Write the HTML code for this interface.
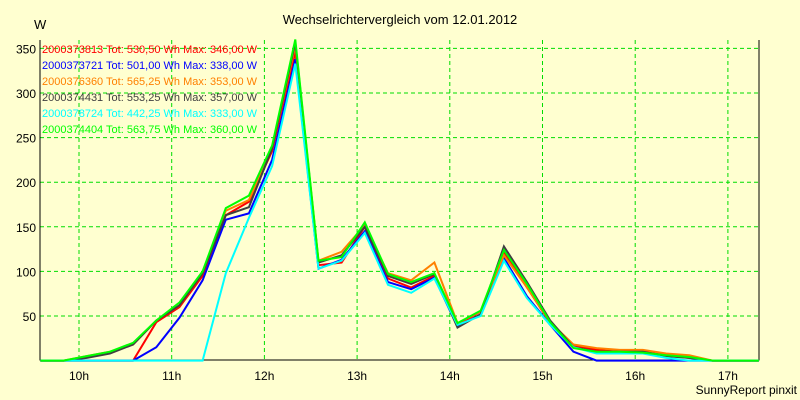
<!DOCTYPE html>
<html><head><meta charset="utf-8"><style>
body{margin:0;background:#ffffd0;}
svg{display:block;font-family:"Liberation Sans",sans-serif;}
</style></head><body>
<svg id="chart" width="800" height="400">
<rect x="0" y="0" width="800" height="400" fill="#ffffd0"/>
<text x="400" y="24" font-size="13" text-anchor="middle" fill="#000">Wechselrichtervergleich vom 12.01.2012</text>
<text x="34" y="29" font-size="13" fill="#000">W</text>
<text x="797" y="394" font-size="12" text-anchor="end" fill="#000">SunnyReport pinxit</text>
<g id="grid"></g><g id="axes"></g><g id="series"></g><g id="legend"></g>
</svg>
<script>
const yTicks=[50,100,150,200,250,300,350];
const xTickHours=[10,11,12,13,14,15,16,17];
const xTickLabels=["10h","11h","12h","13h","14h","15h","16h","17h"];
const startMinute=9*60+35, stepMinutes=15;
const seriesNames=["2000373813 Tot: 530,50 Wh Max: 346,00 W","2000373721 Tot: 501,00 Wh Max: 338,00 W","2000376360 Tot: 565,25 Wh Max: 353,00 W","2000374431 Tot: 553,25 Wh Max: 357,00 W","2000378724 Tot: 442,25 Wh Max: 333,00 W","2000374404 Tot: 563,75 Wh Max: 360,00 W"];
const seriesColors=["#ff0000","#0000ff","#ff8000","#404040","#00ffff","#00ff00"];
const redVals=[0,0,0,0,0,43,60,95,163,178,235,346,107,110,150,92,82,95,40,55,122,82,42,17,12,10,10,6,3,0,0,0];
const blueVals=[0,0,0,0,0,15,48,90,158,165,225,338,103,113,145,88,80,93,38,52,115,72,40,10,0,0,0,0,0,0,0,0];
const orangeVals=[0,0,5,10,18,45,62,98,168,180,238,353,112,122,152,98,90,110,42,55,118,82,43,18,14,12,12,8,6,0,0,0];
const darkVals=[0,0,3,8,18,45,62,98,163,172,238,357,110,118,150,95,86,97,37,52,128,88,45,15,10,10,10,5,3,0,0,0];
const cyanVals=[0,0,0,0,0,0,0,0,98,160,218,333,103,112,143,85,76,92,40,50,112,70,40,15,8,8,8,3,0,0,0,0];
const greenVals=[0,0,5,10,20,45,65,100,171,185,241,360,112,116,155,97,88,98,42,56,124,86,43,14,10,10,9,6,4,0,0,0];
const allSeries=[redVals,blueVals,orangeVals,darkVals,cyanVals,greenVals];

const NS="http://www.w3.org/2000/svg";
const L=40,R=759,T=40,B=360;
function xScale(min){return 79+(min-600)*92.7/60;}
function yScale(v){return 360.6-v*0.892;}
function mk(tag,attrs,parent){const e=document.createElementNS(NS,tag);for(const k in attrs)e.setAttribute(k,attrs[k]);parent.appendChild(e);return e;}
const grid=document.getElementById('grid'),axes=document.getElementById('axes'),ser=document.getElementById('series'),leg=document.getElementById('legend');
yTicks.forEach(v=>{
  const y=yScale(v);
  const g=mk('line',{x1:L,x2:R,y1:y,y2:y,stroke:'#00dd00','stroke-dasharray':'4,3'},grid);
  
  
  const t=mk('text',{x:36,y:y+5,'font-size':12,'text-anchor':'end',fill:'#000'},axes);
  t.textContent=v;
  
  
});
xTickHours.forEach((h,i)=>{
  const x=xScale(h*60);
  const g=mk('line',{x1:x,x2:x,y1:T,y2:B,stroke:'#00dd00','stroke-dasharray':'4,3'},grid);
  
  
  const t=mk('text',{x:x,y:380,'font-size':12,'text-anchor':'middle',fill:'#000'},axes);
  t.textContent=xTickLabels[i];
  
  
});
const ax=mk('polyline',{points:`${L},${T} ${L},${B} ${R},${B} ${R},${T}`,fill:'none',stroke:'#000','stroke-width':1},axes);


allSeries.forEach((vals,si)=>{
  const pts=vals.map((v,k)=>xScale(startMinute+k*stepMinutes).toFixed(1)+','+yScale(v).toFixed(1)).join(' ');
  const p=mk('polyline',{points:pts,fill:'none',stroke:seriesColors[si],'stroke-width':2},ser);
  
  
  const t=mk('text',{x:42,y:53+si*16,'font-size':11,fill:seriesColors[si]},leg);
  t.textContent=seriesNames[si];
  
  
});
</script>
</body></html>
